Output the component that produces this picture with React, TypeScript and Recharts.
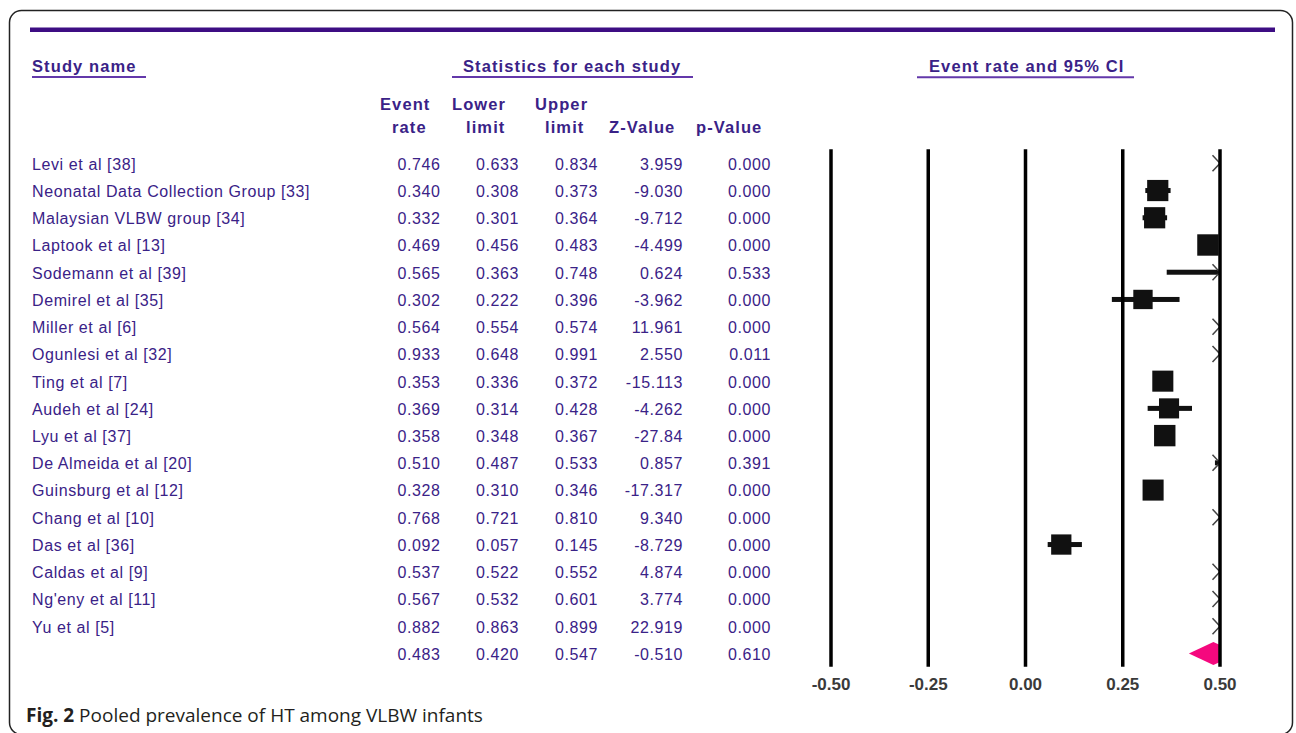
import React from 'react';
import { ComposedChart, Bar, XAxis, YAxis, ReferenceLine } from 'recharts';

// ---- study data ----
const studyNames = [
  'Levi et al [38]',
  'Neonatal Data Collection Group [33]',
  'Malaysian VLBW group [34]',
  'Laptook et al [13]',
  'Sodemann et al [39]',
  'Demirel et al [35]',
  'Miller et al [6]',
  'Ogunlesi et al [32]',
  'Ting et al [7]',
  'Audeh et al [24]',
  'Lyu et al [37]',
  'De Almeida et al [20]',
  'Guinsburg et al [12]',
  'Chang et al [10]',
  'Das et al [36]',
  'Caldas et al [9]',
  "Ng'eny et al [11]",
  'Yu et al [5]',
];
const eventRates = [0.746, 0.34, 0.332, 0.469, 0.565, 0.302, 0.564, 0.933, 0.353, 0.369, 0.358, 0.51, 0.328, 0.768, 0.092, 0.537, 0.567, 0.882];
const lowerLimits = [0.633, 0.308, 0.301, 0.456, 0.363, 0.222, 0.554, 0.648, 0.336, 0.314, 0.348, 0.487, 0.31, 0.721, 0.057, 0.522, 0.532, 0.863];
const upperLimits = [0.834, 0.373, 0.364, 0.483, 0.748, 0.396, 0.574, 0.991, 0.372, 0.428, 0.367, 0.533, 0.346, 0.81, 0.145, 0.552, 0.601, 0.899];
const zValues = ['3.959', '-9.030', '-9.712', '-4.499', '0.624', '-3.962', '11.961', '2.550', '-15.113', '-4.262', '-27.84', '0.857', '-17.317', '9.340', '-8.729', '4.874', '3.774', '22.919'];
const pValues = [0.0, 0.0, 0.0, 0.0, 0.533, 0.0, 0.0, 0.011, 0.0, 0.0, 0.0, 0.391, 0.0, 0.0, 0.0, 0.0, 0.0, 0.0];
// relative weights (%) — drive the size of each study's square
const weights = [5.4, 5.7, 5.7, 5.75, 4.7, 5.2, 5.75, 3.9, 5.66, 5.4, 5.75, 5.64, 5.66, 5.6, 5.45, 5.7, 5.62, 5.66];

// ---- pooled estimate ----
const pooledRate = 0.483;
const pooledLower = 0.42;
const pooledUpper = 0.547;
const pooledZ = '-0.510';
const pooledP = 0.61;

const xTicks = [-0.5, -0.25, 0, 0.25, 0.5];

type Row = {
  key: string;
  name: string;
  rate: number;
  lower: number;
  upper: number;
  z: string;
  p: number;
  weight: number;
  pooled: boolean;
  ci: [number, number];
};

const rows: Row[] = [
  ...studyNames.map((name, i) => ({
    key: name,
    name,
    rate: eventRates[i],
    lower: lowerLimits[i],
    upper: upperLimits[i],
    z: zValues[i],
    p: pValues[i],
    weight: weights[i],
    pooled: false,
    ci: [lowerLimits[i], upperLimits[i]] as [number, number],
  })),
  {
    key: 'Pooled',
    name: '',
    rate: pooledRate,
    lower: pooledLower,
    upper: pooledUpper,
    z: pooledZ,
    p: pooledP,
    weight: 0,
    pooled: true,
    ci: [pooledLower, pooledUpper],
  },
];
const rowByKey = new Map(rows.map((r) => [r.key, r]));

const FONT = '"Liberation Sans", Arial, sans-serif';
const TEXT = '#3a2287';
const PURPLE_BAR = '#3d0d83';
const UNDERLINE = '#6338aa';
const ROW_LS = 0.6;
const HEAD_LS = 1.1;

// Left-hand table: one tick per row holds the study name and its statistics
const RowTick = (props: any) => {
  const { y, payload } = props;
  const row = rowByKey.get(payload?.value);
  if (!row) return null;
  const base = y + 6.8;
  const common = { fontFamily: FONT, fontSize: 16, fill: TEXT, style: { letterSpacing: ROW_LS } } as any;
  const num = (x: number, s: string) => (
    <text {...common} x={x + ROW_LS} y={base} textAnchor="end">
      {s}
    </text>
  );
  return (
    <g>
      {row.name && (
        <text {...common} x={32} y={base} textAnchor="start">
          {row.name}
        </text>
      )}
      {num(440, row.rate.toFixed(3))}
      {num(518.5, row.lower.toFixed(3))}
      {num(597.5, row.upper.toFixed(3))}
      {num(682.5, row.z)}
      {num(770.5, row.p.toFixed(3))}
    </g>
  );
};

// Forest-plot mark: CI line, weighted square, overflow arrow, pooled diamond
const ForestMark = (props: any) => {
  const { x, y, width, height, payload } = props;
  if (!payload || width == null) return null;
  const r: Row = payload;
  const span = r.upper - r.lower;
  const px = (v: number) => x + ((v - r.lower) / span) * width;
  const xMin = px(xTicks[0]);
  const xMax = px(xTicks[xTicks.length - 1]);
  const cy = y + height / 2;

  if (r.pooled) {
    const xl = Math.max(px(r.lower), xMin);
    const xc = px(r.rate);
    const xu = px(r.upper);
    const h = 11.5;
    let pts: [number, number][];
    if (xu > xMax && xc < xMax) {
      const t = (xMax - xc) / (xu - xc);
      const hh = h * (1 - t);
      pts = [
        [xl, cy],
        [xc, cy - h],
        [xMax, cy - hh],
        [xMax, cy + hh],
        [xc, cy + h],
      ];
    } else {
      pts = [
        [xl, cy],
        [xc, cy - h],
        [xu, cy],
        [xc, cy + h],
      ];
    }
    return <polygon points={pts.map((p) => p.join(',')).join(' ')} fill="#f5087e" />;
  }

  const lx1 = Math.max(px(r.lower), xMin);
  const lx2 = Math.min(px(r.upper), xMax);
  const size = r.weight * 3.72;
  const cx = px(r.rate);
  const showSquare = r.rate >= xTicks[0] && r.rate <= xTicks[xTicks.length - 1];
  const sx1 = Math.max(cx - size / 2, xMin);
  const sx2 = Math.min(cx + size / 2, xMax);
  return (
    <g>
      {lx2 > lx1 && <rect x={lx1} y={cy - 2.5} width={lx2 - lx1} height={5} fill="#111" />}
      {showSquare && <rect x={sx1} y={cy - size / 2} width={sx2 - sx1} height={size} fill="#111" />}
      {r.upper > xTicks[xTicks.length - 1] && (
        <polyline
          points={`${xMax - 7.5},${cy - 8} ${xMax},${cy} ${xMax - 7.5},${cy + 8}`}
          fill="none"
          stroke="#444"
          strokeWidth={1.5}
        />
      )}
    </g>
  );
};

const headStyle = { fontFamily: FONT, fontSize: 16.5, fontWeight: 700, fill: TEXT, letterSpacing: HEAD_LS } as any;

export default function App() {
  return (
    <div style={{ position: 'absolute', left: 0, top: 0, width: 1296, height: 733, background: '#fff' }}>
      <ComposedChart
        width={1296}
        height={733}
        data={rows}
        layout="vertical"
        margin={{ top: 149.3, right: 76, bottom: 36.3, left: 0 }}
        barSize={20}
      >
        <XAxis
          type="number"
          domain={[xTicks[0], xTicks[xTicks.length - 1]]}
          ticks={xTicks}
          interval={0}
          allowDataOverflow
          axisLine={false}
          tickLine={false}
          tickMargin={5}
          height={30}
          tickFormatter={(v: number) => v.toFixed(2)}
          tick={{ fontFamily: FONT, fontSize: 17, fontWeight: 700, fill: '#3a3a3a' }}
        />
        <YAxis
          type="category"
          dataKey="key"
          width={831}
          interval={0}
          axisLine={false}
          tickLine={false}
          tick={<RowTick />}
        />
        {xTicks.map((t) => (
          <ReferenceLine key={t} x={t} stroke="#000" strokeWidth={3.5} />
        ))}
        <Bar dataKey="ci" isAnimationActive={false} shape={<ForestMark />} />
      </ComposedChart>

      <svg
        width={1296}
        height={733}
        style={{ position: 'absolute', left: 0, top: 0, pointerEvents: 'none' }}
      >
        <rect x={9.5} y={10.5} width={1283} height={724} rx={12} fill="none" stroke="#222" strokeWidth={1.5} />
        <rect x={30} y={27.5} width={1245} height={4.5} fill={PURPLE_BAR} />

        <text {...headStyle} x={32} y={72}>Study name</text>
        <line x1={32} x2={146} y1={77} y2={77} stroke={UNDERLINE} strokeWidth={2} />
        <text {...headStyle} x={463} y={72}>Statistics for each study</text>
        <line x1={452} x2={693} y1={77} y2={77} stroke={UNDERLINE} strokeWidth={2} />
        <text {...headStyle} x={929} y={72}>Event rate and 95% CI</text>
        <line x1={917} x2={1134} y1={77.3} y2={77.3} stroke={UNDERLINE} strokeWidth={2} />

        <text {...headStyle} x={380} y={110}>Event</text>
        <text {...headStyle} x={392} y={133}>rate</text>
        <text {...headStyle} x={452} y={110}>Lower</text>
        <text {...headStyle} x={466} y={133}>limit</text>
        <text {...headStyle} x={535} y={110}>Upper</text>
        <text {...headStyle} x={545} y={133}>limit</text>
        <text {...headStyle} x={609} y={133}>Z-Value</text>
        <text {...headStyle} x={696} y={133}>p-Value</text>

        <text x={26} y={721.5} fontFamily='"Open Sans", sans-serif' fontSize={19} fill="#231f20">
          <tspan fontWeight={700}>Fig. 2</tspan>
          <tspan> Pooled prevalence of HT among VLBW infants</tspan>
        </text>
      </svg>
    </div>
  );
}
